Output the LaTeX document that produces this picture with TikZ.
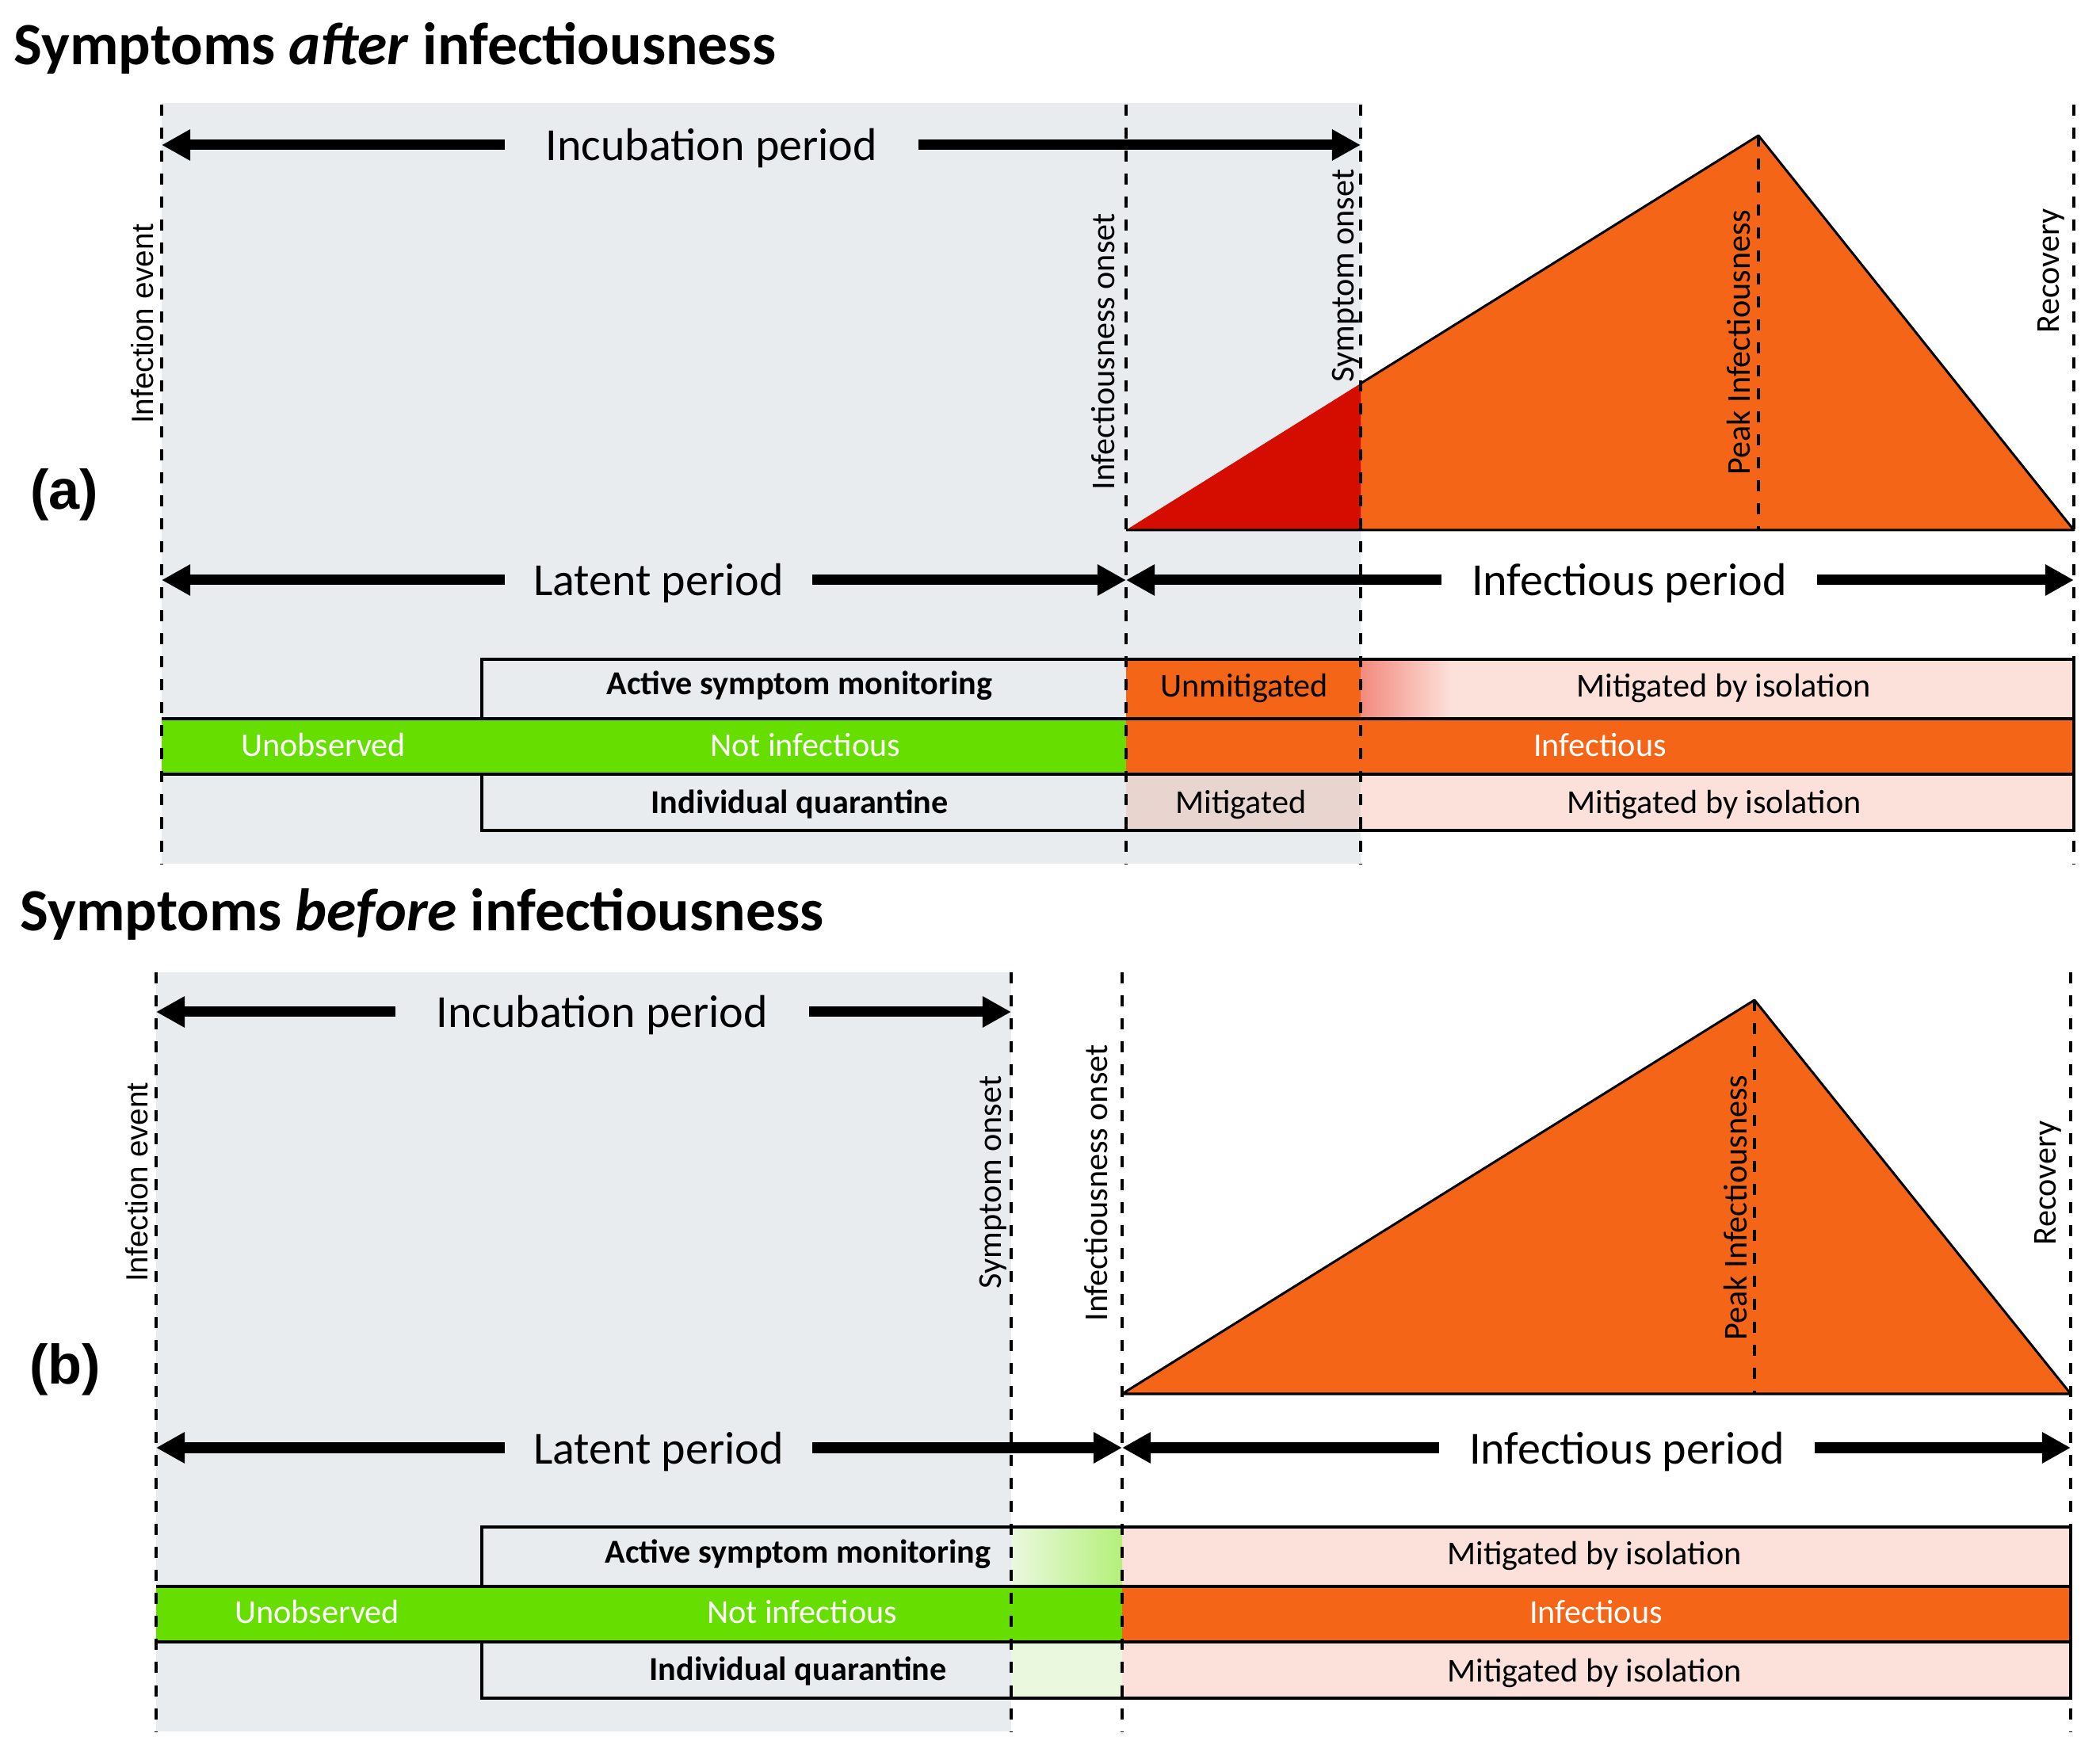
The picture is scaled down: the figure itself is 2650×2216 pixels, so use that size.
\documentclass[tikz,border=0pt]{standalone}
\usepackage{fontspec}
\setmainfont{Carlito}
\newfontfamily\arialfont{Liberation Sans}
\usetikzlibrary{arrows.meta}
\definecolor{bggray}{RGB}{233,236,239}
\definecolor{infor}{RGB}{245,101,24}
\definecolor{infred}{RGB}{213,12,0}
\definecolor{okgreen}{RGB}{102,222,0}
\definecolor{isopink}{RGB}{252,225,218}
\definecolor{mitbrown}{RGB}{232,213,207}
\definecolor{salmon}{RGB}{243,138,126}
\definecolor{grlight}{RGB}{234,248,222}
\definecolor{grmid}{RGB}{180,240,122}
\begin{document}
\begin{tikzpicture}[x=0.01cm, y=-0.01cm,
dashline/.style={line width=0.048cm, dash pattern=on 0.14cm off 0.15cm},
bigarrow/.style={line width=0.13cm, -{Triangle[length=0.36cm, width=0.37cm]}},
period/.style={font=\fontsize{16.5}{20}\selectfont, anchor=base},
barbox/.style={line width=0.04cm},
bartext/.style={font=\fontsize{12}{14}\selectfont, anchor=base},
barhead/.style={bartext, font=\fontsize{12}{14}\selectfont\bfseries},
onbar/.style={bartext, text=white},
event/.style={font=\fontsize{12}{14}\selectfont, rotate=90, anchor=base, inner sep=0pt},
arialevent/.style={event, font=\arialfont\fontsize{11}{13}\selectfont},
heading/.style={font=\fontsize{21.5}{24}\selectfont\bfseries, anchor=base west, inner sep=0pt},
panel/.style={font=\arialfont\bfseries\fontsize{20}{24}\selectfont, anchor=base, inner sep=0pt}]
\useasboundingbox (0,0) rectangle (2650,2216);
\begin{scope}
\node[heading] (headA) at (17,82) {Symptoms \textit{after} infectiousness};
\node[panel] (panelA) at (81,643) {(a)};
\fill[bggray] (204,130) rectangle (1717,1090);
\fill[infor] (1421,669) -- (2219,171) -- (2617,669) -- cycle;
\fill[infred] (1421,669) -- (1717,484) -- (1717,669) -- cycle;
\draw[line width=0.03cm, line join=round] (1717,484) -- (2219,171) -- (2617,669) -- (1421,669);
\coordinate (incL) at (204,183);
\coordinate (incR) at (1717,183);
\coordinate (latL) at (204,732);
\coordinate (latR) at (1421,732);
\coordinate (infL) at (1421,732);
\coordinate (infR) at (2617,732);
\node[period, inner xsep=0.51cm] (incubA) at (898,203) {Incubation period};
\node[period, inner xsep=0.35cm] (latentA) at (831,752) {Latent period};
\node[period, inner xsep=0.37cm] (infectA) at (2056,752) {Infectious period};
\draw[bigarrow] (incubA.west |- incL) -- (incL);
\draw[bigarrow] (incubA.east |- incR) -- (incR);
\draw[bigarrow] (latentA.west |- latL) -- (latL);
\draw[bigarrow] (latentA.east |- latR) -- (latR);
\draw[bigarrow] (infectA.west |- infL) -- (infL);
\draw[bigarrow] (infectA.east |- infR) -- (infR);
\fill[isopink] (1717,832) rectangle (2617,907);
\shade[left color=salmon, right color=isopink] (1717,832) rectangle (1832,907);
\fill[infor] (1421,832) rectangle (1717,907);
\fill[okgreen] (204,907) rectangle (1421,977);
\fill[infor] (1421,907) rectangle (2617,977);
\fill[mitbrown] (1421,977) rectangle (1717,1048);
\fill[isopink] (1717,977) rectangle (2617,1048);
\draw[barbox] (608,832) rectangle (2617,907);
\draw[barbox] (204,907) -- (608,907) (204,977) -- (608,977) (2617,907) -- (2617,977);
\draw[barbox] (608,977) rectangle (2617,1048);
\node[barhead] (monA) at (1009,877) {Active symptom monitoring};
\node[bartext] (unmitA) at (1570,880) {Unmitigated};
\node[bartext] (isoTopA) at (2175,880) {Mitigated by isolation};
\node[onbar] (unobsA) at (408,955) {Unobserved};
\node[onbar] (notinfA) at (1016,955) {Not infectious};
\node[onbar] (infA) at (2019,955) {Infectious};
\node[barhead] (quarA) at (1009,1027) {Individual quarantine};
\node[bartext] (mitA) at (1566,1027) {Mitigated};
\node[bartext] (isoBotA) at (2163,1027) {Mitigated by isolation};
\node[arialevent] (eventA) at (193,409) {Infection event};
\node[event] (onsetA) at (1406,444) {Infectiousness onset};
\node[event] (sympA) at (1708,348) {Symptom onset};
\node[event] (peakA) at (2208,432) {Peak Infectiousness};
\node[event] (recA) at (2598,342) {Recovery};
\draw[dashline] (204,132) -- (204,1090);
\draw[dashline] (1421,132) -- (1421,1090);
\draw[dashline] (1717,132) -- (1717,1090);
\draw[dashline] (2617,132) -- (2617,1090);
\draw[dashline] (2219,171) -- (2219,669);
\end{scope}
\begin{scope}[shift={(0,1095)}]
\node[heading] (headB) at (25,80) {Symptoms \textit{before} infectiousness};
\node[panel] (panelB) at (82,652) {(b)};
\fill[bggray] (197,132) rectangle (1276,1090);
\filldraw[fill=infor, line width=0.03cm, line join=round] (1416,664) -- (2214,167) -- (2613,664) -- cycle;
\coordinate (incL) at (197,182);
\coordinate (incR) at (1276,182);
\coordinate (latL) at (197,732);
\coordinate (latR) at (1416,732);
\coordinate (infL) at (1416,732);
\coordinate (infR) at (2613,732);
\node[period, inner xsep=0.51cm] (incubB) at (760,202) {Incubation period};
\node[period, inner xsep=0.35cm] (latentB) at (831,752) {Latent period};
\node[period, inner xsep=0.37cm] (infectB) at (2053,752) {Infectious period};
\draw[bigarrow] (incubB.west |- incL) -- (incL);
\draw[bigarrow] (incubB.east |- incR) -- (incR);
\draw[bigarrow] (latentB.west |- latL) -- (latL);
\draw[bigarrow] (latentB.east |- latR) -- (latR);
\draw[bigarrow] (infectB.west |- infL) -- (infL);
\draw[bigarrow] (infectB.east |- infR) -- (infR);
\fill[isopink] (1416,832) rectangle (2613,907);
\shade[left color=grlight, right color=grmid] (1276,832) rectangle (1416,907);
\fill[okgreen] (197,907) rectangle (1416,977);
\fill[infor] (1416,907) rectangle (2613,977);
\fill[grlight] (1276,977) rectangle (1416,1048);
\fill[isopink] (1416,977) rectangle (2613,1048);
\draw[barbox] (608,832) rectangle (2613,907);
\draw[barbox] (197,907) -- (608,907) (197,977) -- (608,977) (2613,907) -- (2613,977);
\draw[barbox] (608,977) rectangle (2613,1048);
\node[barhead] (monB) at (1007,877) {Active symptom monitoring};
\node[bartext] (isoTopB) at (2012,879) {Mitigated by isolation};
\node[onbar] (unobsB) at (400,953) {Unobserved};
\node[onbar] (notinfB) at (1012,953) {Not infectious};
\node[onbar] (infB) at (2014,953) {Infectious};
\node[barhead] (quarB) at (1007,1025) {Individual quarantine};
\node[bartext] (isoBotB) at (2012,1027) {Mitigated by isolation};
\node[arialevent] (eventB) at (186,397) {Infection event};
\node[event] (sympB) at (1263,397) {Symptom onset};
\node[event] (onsetB) at (1397,398) {Infectiousness onset};
\node[event] (peakB) at (2204,429) {Peak Infectiousness};
\node[event] (recB) at (2594,398) {Recovery};
\draw[dashline] (197,132) -- (197,1090);
\draw[dashline] (1276,132) -- (1276,1090);
\draw[dashline] (1416,132) -- (1416,1090);
\draw[dashline] (2613,132) -- (2613,1090);
\draw[dashline] (2214,167) -- (2214,664);
\end{scope}
\end{tikzpicture}
\end{document}
